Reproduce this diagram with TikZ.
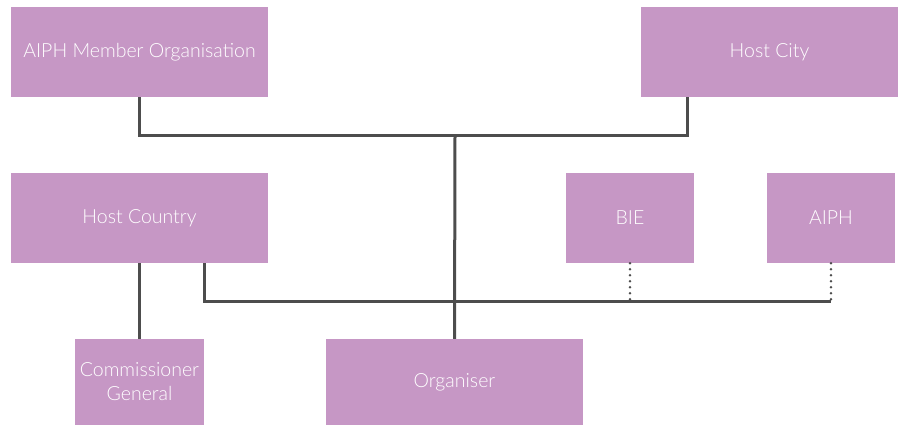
\documentclass[tikz,border=0pt]{standalone}
\usepackage{fontspec}
\setmainfont{Lato}[UprightFont=* Light]
\begin{document}
\begin{tikzpicture}[x=1pt,y=-1pt,
  box/.style={fill=boxfill, draw=none, text=white, inner sep=0pt, align=center, font=\fontsize{19.5}{24}\selectfont},
  conn/.style={draw=linegray, line width=3pt},
  dotconn/.style={draw=linegray, line width=2.8pt, line cap=round, dash pattern=on 0pt off 6pt},
]
\definecolor{boxfill}{HTML}{C697C5}
\definecolor{linegray}{HTML}{4D4D4D}
\useasboundingbox (0,0) rectangle (904,426);
\node[box, minimum width=257pt, minimum height=90pt] (amo) at (139.5,52) {AIPH Member Organisation};
\node[box, minimum width=257pt, minimum height=90pt] (city) at (769.5,52) {Host City};
\node[box, minimum width=257pt, minimum height=90pt] (country) at (139.5,218) {Host Country};
\node[box, minimum width=128pt, minimum height=90pt] (bie) at (630,218) {BIE};
\node[box, minimum width=128pt, minimum height=90pt] (aiph) at (831,218) {AIPH};
\node[box, minimum width=129pt, minimum height=86pt] (cg) at (139.5,382) {Commissioner\\General};
\node[box, minimum width=257pt, minimum height=86pt] (org) at (454.5,382) {Organiser};
\coordinate (j1) at (455,135);
\coordinate (j2) at (455,301);
\draw[conn] (amo.south) -- (amo.south |- j1) -| (city.south -| 687,0);
\draw[conn] (j1) -- (org.north);
\draw[conn] (country.south) -- (cg.north);
\draw[conn] (204,263) -- (204,301) -- (aiph.south |- j2);
\draw[dotconn] (bie.south) -- (bie.south |- j2);
\draw[dotconn] (aiph.south) -- (aiph.south |- j2);
\end{tikzpicture}
\end{document}
